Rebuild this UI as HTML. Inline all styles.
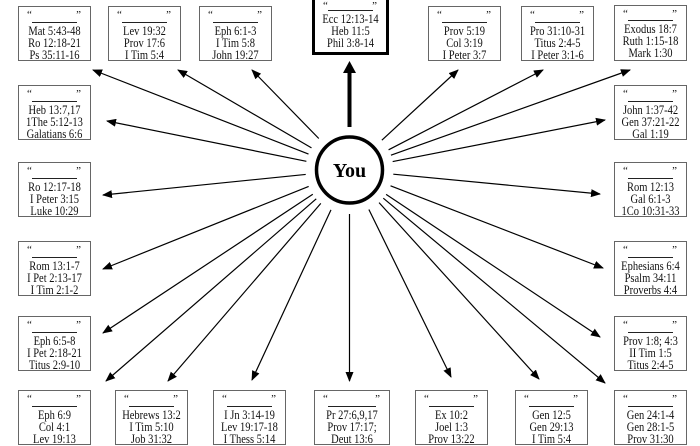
<!DOCTYPE html>
<html><head><meta charset="utf-8"><style>
html,body{margin:0;padding:0;background:#fff;}
body{width:700px;height:441px;position:relative;overflow:hidden;font-family:"Liberation Serif",serif;}
.b{position:absolute;width:73px;height:55px;border:1px solid #666;background:#fff;color:#111;font-size:12.5px;box-sizing:border-box;}
.b .q1{position:absolute;left:8px;top:2px;font-size:11px;line-height:12px;}
.b .q2{position:absolute;right:9px;top:2px;font-size:11px;line-height:12px;}
.b .r{position:absolute;left:13px;right:13px;top:15px;border-top:1.5px solid #222;}
.b .t{position:absolute;left:-10px;right:-10px;top:18px;text-align:center;line-height:12px;white-space:nowrap;transform:scaleX(0.84);}
svg{position:absolute;left:0;top:0;}
</style></head><body>
<svg id="s" width="700" height="441" viewBox="0 0 700 441">
<defs><marker id="a" markerWidth="10" markerHeight="8" refX="9" refY="4" orient="auto" markerUnits="userSpaceOnUse"><path d="M0,0 L10,4 L0,8 Z" fill="#000"/></marker></defs>
<g id="g" stroke="#000" stroke-width="1.2"></g>
<line x1="349.5" y1="127" x2="349.5" y2="72" stroke="#000" stroke-width="4"/>
<path d="M343,73 L349.5,61 L356,73 Z" fill="#000"/>
<circle cx="349.5" cy="170" r="33" fill="#fff" stroke="#000" stroke-width="3.5"/>
<text x="349.5" y="177" text-anchor="middle" font-family="Liberation Serif" font-weight="bold" font-size="20">You</text>
</svg>
<div class="b" style="left:18px;top:6px"><span class="q1">“</span><span class="q2">”</span><div class="r"></div><div class="t">Mat 5:43-48<br>Ro 12:18-21<br>Ps 35:11-16</div></div>
<div class="b" style="left:108px;top:6px"><span class="q1">“</span><span class="q2">”</span><div class="r"></div><div class="t">Lev 19:32<br>Prov 17:6<br>I Tim 5:4</div></div>
<div class="b" style="left:199px;top:6px"><span class="q1">“</span><span class="q2">”</span><div class="r"></div><div class="t">Eph 6:1-3<br>I Tim 5:8<br>John 19:27</div></div>
<div class="b" style="left:312px;top:-3px;width:77px;height:58px;border:3px solid #000"><span class="q1" style="top:0">“</span><span class="q2" style="top:0">”</span><div class="r" style="top:10px"></div><div class="t" style="top:13px">Ecc 12:13-14<br>Heb 11:5<br>Phil 3:8-14</div></div>
<div class="b" style="left:428px;top:6px"><span class="q1">“</span><span class="q2">”</span><div class="r"></div><div class="t">Prov 5:19<br>Col 3:19<br>I Peter 3:7</div></div>
<div class="b" style="left:521px;top:6px"><span class="q1">“</span><span class="q2">”</span><div class="r"></div><div class="t">Pro 31:10-31<br>Titus 2:4-5<br>I Peter 3:1-6</div></div>
<div class="b" style="left:614px;top:5px;height:56px"><span class="q1">“</span><span class="q2">”</span><div class="r" style="top:14px"></div><div class="t" style="top:17px">Exodus 18:7<br>Ruth 1:15-18<br>Mark 1:30</div></div>
<div class="b" style="left:18px;top:85px"><span class="q1">“</span><span class="q2">”</span><div class="r"></div><div class="t">Heb 13:7,17<br>1The 5:12-13<br>Galatians 6:6</div></div>
<div class="b" style="left:614px;top:85px"><span class="q1">“</span><span class="q2">”</span><div class="r"></div><div class="t">John 1:37-42<br>Gen 37:21-22<br>Gal 1:19</div></div>
<div class="b" style="left:18px;top:162px"><span class="q1">“</span><span class="q2">”</span><div class="r"></div><div class="t">Ro 12:17-18<br>I Peter 3:15<br>Luke 10:29</div></div>
<div class="b" style="left:614px;top:162px"><span class="q1">“</span><span class="q2">”</span><div class="r"></div><div class="t">Rom 12:13<br>Gal 6:1-3<br>1Co 10:31-33</div></div>
<div class="b" style="left:18px;top:241px"><span class="q1">“</span><span class="q2">”</span><div class="r"></div><div class="t">Rom 13:1-7<br>I Pet 2:13-17<br>I Tim 2:1-2</div></div>
<div class="b" style="left:614px;top:241px"><span class="q1">“</span><span class="q2">”</span><div class="r"></div><div class="t">Ephesians 6:4<br>Psalm 34:11<br>Proverbs 4:4</div></div>
<div class="b" style="left:18px;top:316px"><span class="q1">“</span><span class="q2">”</span><div class="r"></div><div class="t">Eph 6:5-8<br>I Pet 2:18-21<br>Titus 2:9-10</div></div>
<div class="b" style="left:614px;top:316px"><span class="q1">“</span><span class="q2">”</span><div class="r"></div><div class="t">Prov 1:8; 4:3<br>II Tim 1:5<br>Titus 2:4-5</div></div>
<div class="b" style="left:18px;top:390px"><span class="q1">“</span><span class="q2">”</span><div class="r"></div><div class="t">Eph 6:9<br>Col 4:1<br>Lev 19:13</div></div>
<div class="b" style="left:115px;top:390px"><span class="q1">“</span><span class="q2">”</span><div class="r"></div><div class="t">Hebrews 13:2<br>I Tim 5:10<br>Job 31:32</div></div>
<div class="b" style="left:213px;top:390px"><span class="q1">“</span><span class="q2">”</span><div class="r"></div><div class="t">I Jn 3:14-19<br>Lev 19:17-18<br>I Thess 5:14</div></div>
<div class="b" style="left:314px;top:390px;width:76px"><span class="q1">“</span><span class="q2">”</span><div class="r"></div><div class="t">Pr 27:6,9,17<br>Prov 17:17;<br>Deut 13:6</div></div>
<div class="b" style="left:415px;top:390px"><span class="q1">“</span><span class="q2">”</span><div class="r"></div><div class="t">Ex 10:2<br>Joel 1:3<br>Prov 13:22</div></div>
<div class="b" style="left:515px;top:390px"><span class="q1">“</span><span class="q2">”</span><div class="r"></div><div class="t">Gen 12:5<br>Gen 29:13<br>I Tim 5:4</div></div>
<div class="b" style="left:614px;top:390px"><span class="q1">“</span><span class="q2">”</span><div class="r"></div><div class="t">Gen 24:1-4<br>Gen 28:1-5<br>Prov 31:30</div></div>
<script>
var cx=349.5,cy=170,R=44;
var T=[[93,70],[178,70],[252,70],[107,121],[103,195],[458,70],[543,70],[630,70],[605,120],[600,194],
[103,269],[103,333],[106,381],[168,381],[252,380],[349.5,381],[451,377],[539,379],[605,383],[600,337],[603,268]];
var g=document.getElementById('g'),h='';
T.forEach(function(t){var dx=t[0]-cx,dy=t[1]-cy,d=Math.sqrt(dx*dx+dy*dy);
h+='<line x1="'+(cx+dx/d*R)+'" y1="'+(cy+dy/d*R)+'" x2="'+t[0]+'" y2="'+t[1]+'" marker-end="url(#a)"/>';});
g.innerHTML=h;
</script>
</body></html>
